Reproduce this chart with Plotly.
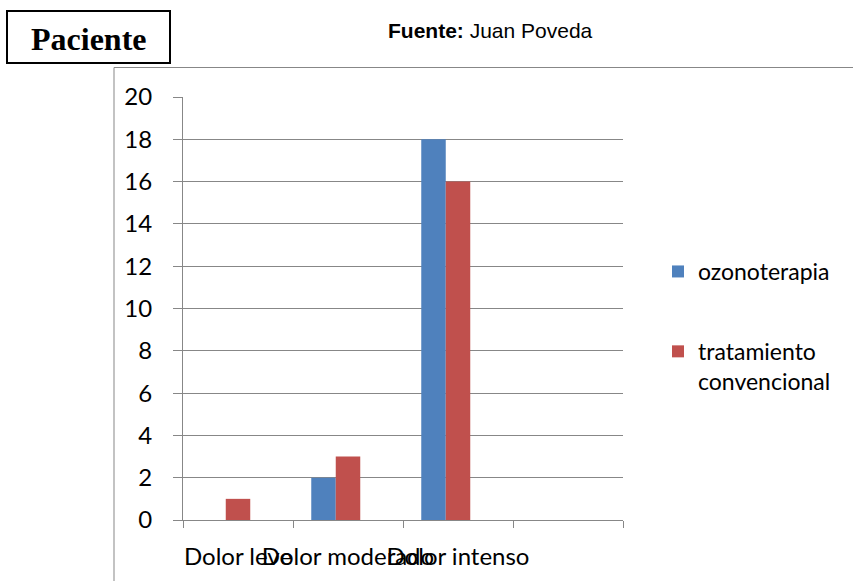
import plotly.graph_objects as go

# ---- data ----
categories = ["Dolor leve", "Dolor moderado", "Dolor intenso"]
axis_categories = ["Dolor leve", "Dolor moderado", "Dolor intenso", " "]
ozonoterapia = [0, 2, 18]
convencional = [1, 3, 16]
empty_series = [0, 0, 0]  # third (blank) series that reserves space in each group
series_names = ["ozonoterapia", "tratamiento<br>convencional"]
y_ticks = [0, 2, 4, 6, 8, 10, 12, 14, 16, 18, 20]

BLUE = "#4F81BD"
RED = "#C0504D"
GRID = "#878787"

W, H = 853, 581
L, R, T, B = 183, 230, 97, 61
PW = W - L - R
PH = H - T - B


def px(x):
    return (x - L) / PW


def py(y):
    return (H - B - y) / PH


fig = go.Figure()
fig.add_trace(go.Bar(x=categories, y=ozonoterapia, name=series_names[0],
                     marker=dict(color=BLUE, line=dict(width=0)),
                     legendgroup="a"))
fig.add_trace(go.Bar(x=categories, y=convencional, name=series_names[1],
                     marker=dict(color=RED, line=dict(width=0)),
                     legendgroup="b"))
fig.add_trace(go.Bar(x=categories, y=empty_series, name="",
                     marker=dict(color="rgba(0,0,0,0)", line=dict(width=0)),
                     showlegend=False, hoverinfo="skip"))

FONT = "Lato"
fig.update_layout(
    width=W, height=H, autosize=False,
    margin=dict(l=L, r=R, t=T, b=B, pad=0),
    paper_bgcolor="white", plot_bgcolor="white",
    barmode="group", bargap=0.332, bargroupgap=0,
    font=dict(family=FONT, size=24, color="black"),
    showlegend=True,
    legend=dict(x=px(658), y=py(250), xanchor="left", yanchor="top",
                font=dict(family=FONT, size=23, color="black"),
                valign="top", traceorder="grouped", tracegroupgap=47,
                bgcolor="rgba(0,0,0,0)", borderwidth=0),
    xaxis=dict(type="category", categoryorder="array", categoryarray=axis_categories,
               range=[-0.5, 3.5], tickson="boundaries", ticks="outside", ticklen=7,
               tickcolor=GRID, tickwidth=1, showline=True, linecolor=GRID, linewidth=1,
               showgrid=False, tickangle=0, ticklabelstandoff=15,
               tickfont=dict(family=FONT, size=24, color="black")),
    yaxis=dict(range=[0, 20], tickvals=y_ticks, ticks="outside", ticklen=9,
               tickcolor=GRID, tickwidth=1, showline=True, linecolor=GRID, linewidth=1,
               showgrid=True, gridcolor=GRID, gridwidth=1, zeroline=False,
               ticklabelstandoff=16,
               tickfont=dict(family=FONT, size=24, color="black")),
)

# outer chart frame (top and left edges)
fig.add_shape(type="line", xref="paper", yref="paper",
              x0=px(114), x1=px(853), y0=py(67.5), y1=py(67.5),
              line=dict(color=GRID, width=1))
fig.add_shape(type="line", xref="paper", yref="paper",
              x0=px(114), x1=px(114), y0=py(67.5), y1=py(581),
              line=dict(color=GRID, width=1))

# "Paciente" box
fig.add_shape(type="rect", xref="paper", yref="paper",
              x0=px(7), x1=px(170), y0=py(11), y1=py(63),
              line=dict(color="black", width=2), fillcolor="white")
fig.add_annotation(text="<b>Paciente</b>", xref="paper", yref="paper",
                   x=px(88.5), y=py(39), xanchor="center", yanchor="middle",
                   showarrow=False,
                   font=dict(family="Liberation Serif", size=32, color="black"))

# source
fig.add_annotation(text="<b>Fuente:</b> Juan Poveda", xref="paper", yref="paper",
                   x=px(490), y=py(30), xanchor="center", yanchor="middle",
                   showarrow=False,
                   font=dict(family="Liberation Sans", size=21, color="black"))

fig.write_html("out.html", config={"displayModeBar": False},
               post_script="document.body.style.margin='0';")
